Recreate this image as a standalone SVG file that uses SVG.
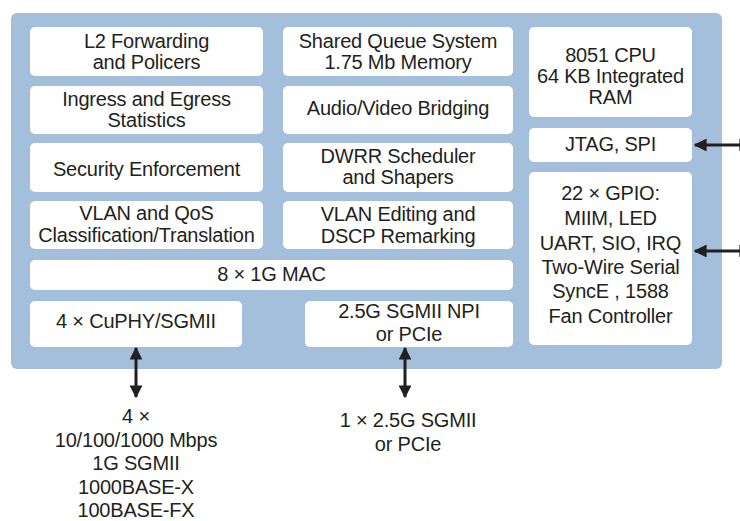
<svg xmlns="http://www.w3.org/2000/svg" width="740" height="521" viewBox="0 0 740 521">
<defs>
<marker id="ah" viewBox="0 0 10 10" refX="9" refY="5" markerWidth="4.3" markerHeight="4.3" orient="auto-start-reverse" markerUnits="strokeWidth"><path d="M0,0 L10,5 L0,10 z" fill="#231f20"/></marker>
<style>
.panel{fill:#a3bfdb}
.box{fill:#ffffff}
text{font-family:"Liberation Sans",Arial,sans-serif;font-size:20px;letter-spacing:-0.2px;fill:#231f20;text-anchor:middle}
.conn{stroke:#231f20;stroke-width:3;fill:none;marker-start:url(#ah);marker-end:url(#ah)}
</style>
</defs>
<rect class="panel" x="11" y="13" width="711" height="356" rx="6"/>
<g id="l2"><rect class="box" x="30" y="27" width="233" height="49" rx="5"/><text x="146.5" y="48">L2 Forwarding</text><text x="146.5" y="69">and Policers</text></g>
<g id="stats"><rect class="box" x="30" y="86" width="233" height="48" rx="5"/><text x="146.5" y="106">Ingress and Egress</text><text x="146.5" y="127">Statistics</text></g>
<g id="security"><rect class="box" x="30" y="143" width="233" height="49" rx="5"/><text x="146.5" y="176">Security Enforcement</text></g>
<g id="vlanqos"><rect class="box" x="30" y="201" width="233" height="48" rx="5"/><text x="146.5" y="220">VLAN and QoS</text><text x="146.5" y="242">Classification/Translation</text></g>
<g id="queue"><rect class="box" x="283" y="27" width="230" height="49" rx="5"/><text x="398" y="48">Shared Queue System</text><text x="398" y="69">1.75 Mb Memory</text></g>
<g id="avb"><rect class="box" x="283" y="86" width="230" height="48" rx="5"/><text x="398" y="115">Audio/Video Bridging</text></g>
<g id="dwrr"><rect class="box" x="283" y="143" width="230" height="49" rx="5"/><text x="398" y="163">DWRR Scheduler</text><text x="398" y="184">and Shapers</text></g>
<g id="vlanedit"><rect class="box" x="283" y="201" width="230" height="48" rx="5"/><text x="398" y="221">VLAN Editing and</text><text x="398" y="243">DSCP Remarking</text></g>
<g id="mac"><rect class="box" x="30" y="260" width="483" height="30" rx="5"/><text x="271.5" y="281">8 × 1G MAC</text></g>
<g id="cuphy"><rect class="box" x="30" y="301" width="212" height="46" rx="5"/><text x="136" y="328">4 × CuPHY/SGMII</text></g>
<g id="npi"><rect class="box" x="305" y="301" width="208" height="46" rx="5"/><text x="409" y="318">2.5G SGMII NPI</text><text x="409" y="341">or PCIe</text></g>
<g id="cpu"><rect class="box" x="529" y="27" width="163" height="90" rx="5"/><text x="610.5" y="62">8051 CPU</text><text x="610.5" y="83">64 KB Integrated</text><text x="610.5" y="104">RAM</text></g>
<g id="jtag"><rect class="box" x="529" y="128" width="163" height="34" rx="5"/><text x="610.5" y="151">JTAG, SPI</text></g>
<g id="gpio"><rect class="box" x="529" y="172" width="163" height="173" rx="5"/><text x="610.5" y="200">22 × GPIO:</text><text x="610.5" y="225">MIIM, LED</text><text x="610.5" y="250">UART, SIO, IRQ</text><text x="610.5" y="274">Two-Wire Serial</text><text x="610.5" y="298">SyncE , 1588</text><text x="610.5" y="323">Fan Controller</text></g>
<g id="connectors">
<line class="conn" x1="136" y1="348" x2="136" y2="397"/>
<line class="conn" x1="405" y1="348" x2="405" y2="397"/>
<line class="conn" x1="695" y1="145" x2="751" y2="145"/>
<line class="conn" x1="695" y1="251" x2="751" y2="251"/>
</g>
<g id="phy-label"><text x="136" y="423">4 ×</text><text x="136" y="447">10/100/1000 Mbps</text><text x="136" y="470">1G SGMII</text><text x="136" y="494">1000BASE-X</text><text x="136" y="517">100BASE-FX</text></g>
<g id="npi-label"><text x="408" y="427">1 × 2.5G SGMII</text><text x="408" y="451">or PCIe</text></g>
</svg>
